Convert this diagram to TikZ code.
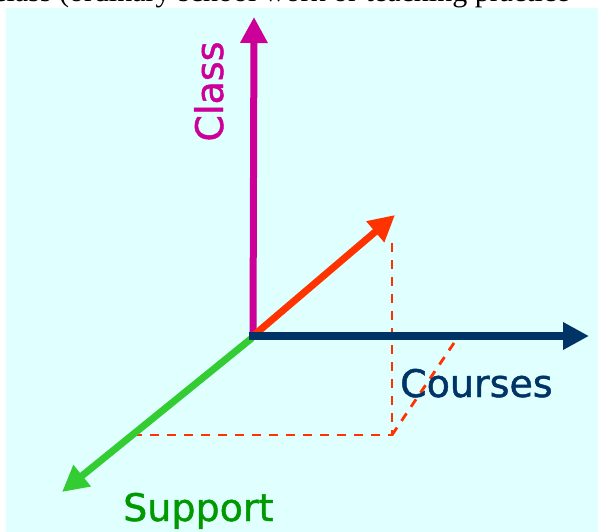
\documentclass[tikz,border=0pt]{standalone}
\usepackage{fontspec}
\setmainfont{Liberation Serif}
\newfontfamily\axisfont[FakeBold=1.2]{DejaVu Sans}
\usetikzlibrary{arrows.meta}
\definecolor{PanelCyan}{HTML}{E0FFFF}
\definecolor{ClassMagenta}{HTML}{CC0099}
\definecolor{CourseNavy}{HTML}{003366}
\definecolor{SupportGreen}{HTML}{33CC33}
\definecolor{SupportText}{HTML}{009900}
\definecolor{VecRed}{HTML}{FF3300}

\begin{document}
\begin{tikzpicture}[
  x=1pt, y=-1pt,
  axis/.style={line width=7pt, -{Triangle[length=26pt, width=26pt]}},
  proj/.style={draw=VecRed, line width=2.8pt, dash pattern=on 9pt off 8pt},
  lbl/.style={font=\fontsize{38}{40}\selectfont\axisfont, inner sep=0pt}
]
\useasboundingbox (0,0) rectangle (598,532);
\fill[white] (0,0) rectangle (598,532);
\fill[PanelCyan] (6,8) rectangle (598,532);
\begin{scope}
  \clip (0,0) rectangle (598,532);
  \node[anchor=base west, inner sep=0pt, font=\fontsize{30}{32}\selectfont] (caption) at (-7,1.5) {class (ordinary school work or teaching practice};
\end{scope}
\coordinate (origin) at (253,336);
\coordinate (classtip) at (254,17);
\coordinate (coursetip) at (589,336);
\coordinate (supporttip) at (62,492);
\coordinate (vectip) at (395,215);
\coordinate (vecdrop) at (392,243);
\coordinate (foot) at (392,435);
\coordinate (supfoot) at (135,435);
\coordinate (coursefoot) at (458,337);
\draw[proj] (vecdrop) -- (foot) -- (supfoot);
\draw[proj] (foot) -- (coursefoot);
\draw[axis, SupportGreen] ([shift={(-1,2)}]origin) -- (supporttip);
\draw[axis, ClassMagenta] ([yshift=-1pt]origin) -- (classtip);
\draw[axis, VecRed] (origin) -- (vectip);
\draw[axis, CourseNavy] ([xshift=-4pt]origin) -- (coursetip);
\node[lbl, text=ClassMagenta, rotate=90, anchor=base] (classlabel) at (223,91.5) {Class};
\node[lbl, text=CourseNavy, anchor=base west] (courselabel) at (400,397) {Courses};
\node[lbl, text=SupportText, anchor=base west] (supportlabel) at (123,521) {Support};
\end{tikzpicture}
\end{document}
